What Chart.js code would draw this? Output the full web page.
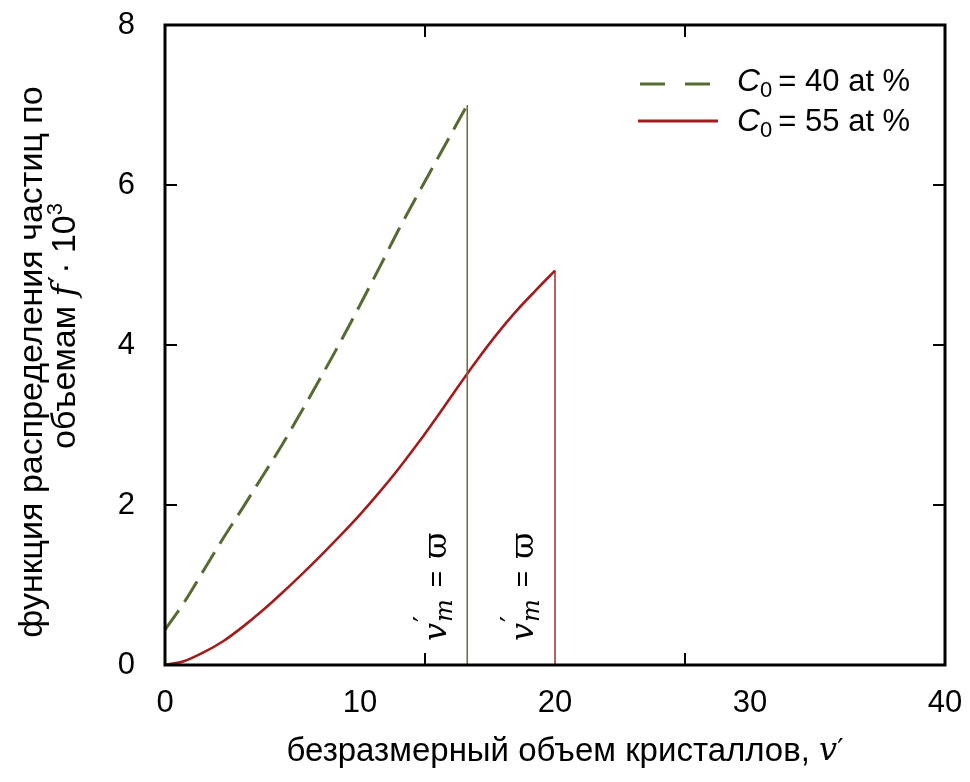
<!DOCTYPE html>
<html>
<head>
<meta charset="utf-8">
<script src="https://cdn.jsdelivr.net/npm/chart.js@4/dist/chart.umd.min.js"></script>
<style>
body { margin: 0; background: #fff; }
#wrap { width: 970px; height: 782px; }
</style>
</head>
<body>
<div id="wrap"><canvas id="chartDist"></canvas></div>
<script>
// values
const xGreen = [0, 1, 2, 3, 4, 5, 6, 7, 8, 9, 10, 11, 12, 13, 14, 15, 15.5];
const yGreen = [0.44, 0.79, 1.19, 1.59, 1.97, 2.36, 2.75, 3.17, 3.6, 4.04, 4.5, 4.97, 5.45, 5.9, 6.34, 6.78, 7.0];
const xRed = [0, 1, 2, 3, 4, 5, 6, 7, 8, 9, 10, 11, 12, 13, 14, 15, 16, 17, 18, 19, 20];
const yRed = [0, 0.05, 0.16, 0.3, 0.48, 0.68, 0.9, 1.13, 1.37, 1.62, 1.88, 2.16, 2.46, 2.78, 3.12, 3.47, 3.81, 4.13, 4.42, 4.68, 4.93];
const xTickLabels = [0, 10, 20, 30, 40];
const yTickLabels = [0, 2, 4, 6, 8];
const xTickMarks = [40 / 3, 80 / 3];
const yTickMarks = [2, 4, 6];

const GREEN = '#566b33';
const GREEN_V = '#70703f';
const RED = '#a11d1d';
const RED_V = '#a33a3a';
const SANS = '"Liberation Sans", Arial, sans-serif';
const SERIF = '"DejaVu Serif", "Liberation Serif", serif';

function pts(xs, ys) {
  return xs.map((x, i) => ({ x: x, y: ys[i] }));
}
function dropLine(xs, ys) {
  const n = xs.length - 1;
  return [{ x: xs[n], y: ys[n] }, { x: xs[n], y: 0 }];
}

// draw a run of text pieces, left to right, returns the width
function rich(ctx, parts, x, y, measureOnly) {
  let cx = x;
  parts.forEach(p => {
    ctx.font = p.font;
    if (!measureOnly) ctx.fillText(p.t, cx, y + (p.dy || 0));
    if (!p.noAdvance) cx += ctx.measureText(p.t).width + (p.gap || 0);
  });
  return cx - x;
}
function richCentered(ctx, parts, cx, cy, rot) {
  ctx.save();
  ctx.translate(cx, cy);
  if (rot) ctx.rotate(rot);
  ctx.textBaseline = 'middle';
  ctx.fillStyle = '#000';
  const w = rich(ctx, parts, 0, 0, true);
  rich(ctx, parts, -w / 2, 0, false);
  ctx.restore();
}

const vmParts = [
  { t: 'v', font: 'italic 32px ' + SERIF, gap: 1 },
  { t: '′', font: '27px ' + SERIF, dy: -11, noAdvance: true },
  { t: 'm', font: 'italic 24px ' + SERIF, dy: 8, gap: 12 },
  { t: '=', font: '28px ' + SANS, gap: 12 },
  { t: 'ϖ', font: '32px ' + SERIF }
];

const decor = {
  id: 'decor',
  afterDatasetsDraw(chart) {
    const ctx = chart.ctx;
    const a = chart.chartArea;
    const xs = chart.scales.x, ys = chart.scales.y;
    ctx.save();
    // frame
    ctx.strokeStyle = '#000';
    ctx.lineWidth = 3;
    ctx.strokeRect(a.left, a.top, a.right - a.left, a.bottom - a.top);
    // inward tick marks
    ctx.lineWidth = 2;
    ctx.beginPath();
    xTickMarks.forEach(v => {
      const px = xs.getPixelForValue(v);
      ctx.moveTo(px, a.bottom); ctx.lineTo(px, a.bottom - 12);
      ctx.moveTo(px, a.top); ctx.lineTo(px, a.top + 12);
    });
    yTickMarks.forEach(v => {
      const py = ys.getPixelForValue(v);
      ctx.moveTo(a.left, py); ctx.lineTo(a.left + 12, py);
      ctx.moveTo(a.right, py); ctx.lineTo(a.right - 12, py);
    });
    ctx.stroke();

    // annotations v'_m = varpi
    ctx.fillStyle = '#000';
    ctx.textBaseline = 'middle';
    [[14.0, 0.3], [18.45, 0.3]].forEach(p => {
      ctx.save();
      ctx.translate(xs.getPixelForValue(p[0]), ys.getPixelForValue(p[1]));
      ctx.rotate(-Math.PI / 2);
      rich(ctx, vmParts, 0, 0, false);
      ctx.restore();
    });

    // legend
    const lx0 = 640, lx1 = 718;
    ctx.lineWidth = 3;
    ctx.strokeStyle = GREEN;
    ctx.setLineDash([25, 20]);
    ctx.beginPath(); ctx.moveTo(lx0, 84); ctx.lineTo(lx1, 84); ctx.stroke();
    ctx.setLineDash([]);
    ctx.strokeStyle = RED;
    ctx.beginPath(); ctx.moveTo(lx0 - 2, 121); ctx.lineTo(lx1, 121); ctx.stroke();
    ctx.fillStyle = '#000';
    ['40', '55'].forEach((c, i) => {
      rich(ctx, [
        { t: 'C', font: 'italic 32px ' + SANS, gap: 0 },
        { t: '0', font: '22px ' + SANS, dy: 9, gap: 6 },
        { t: '= ' + c + ' at %', font: '31px ' + SANS }
      ], 737, 82 + i * 40, false);
    });

    // axis titles
    richCentered(ctx, [
      { t: 'безразмерный объем кристаллов, ', font: '33px ' + SANS },
      { t: 'v', font: 'italic 32px ' + SERIF },
      { t: '′', font: '28px ' + SERIF }
    ], 565, 752, 0);
    richCentered(ctx, [
      { t: 'функция распределения частиц по', font: '34px ' + SANS }
    ], 33, 362, -Math.PI / 2);
    richCentered(ctx, [
      { t: 'объемам ', font: '34px ' + SANS },
      { t: 'f', font: 'italic 33px ' + SERIF, gap: 2 },
      { t: '′', font: '28px ' + SERIF, dy: -4, gap: 2 },
      { t: '· 10', font: '34px ' + SANS },
      { t: '3', font: '22px ' + SANS, dy: -10 }
    ], 66, 326, -Math.PI / 2);
    ctx.restore();
  }
};

new Chart(document.getElementById('chartDist').getContext('2d'), {
  type: 'line',
  data: {
    datasets: [{
      label: 'C0 = 40 at %',
      data: pts(xGreen, yGreen),
      borderColor: GREEN,
      borderWidth: 3,
      borderDash: [24, 10],
      pointRadius: 0,
      cubicInterpolationMode: 'monotone'
    }, {
      data: dropLine(xGreen, yGreen),
      borderColor: GREEN_V,
      borderWidth: 1.6,
      pointRadius: 0
    }, {
      label: 'C0 = 55 at %',
      data: pts(xRed, yRed),
      borderColor: RED,
      borderWidth: 2.6,
      pointRadius: 0,
      cubicInterpolationMode: 'monotone'
    }, {
      data: dropLine(xRed, yRed),
      borderColor: RED_V,
      borderWidth: 1.6,
      pointRadius: 0
    }]
  },
  options: {
    responsive: true,
    maintainAspectRatio: false,
    animation: false,
    layout: { padding: { top: 25, right: 25, left: 0, bottom: 0 } },
    plugins: { legend: { display: false }, tooltip: { enabled: false } },
    scales: {
      x: {
        type: 'linear',
        min: 0, max: 40,
        afterFit: s => { s.height = 117; s.paddingLeft = 0; s.paddingRight = 0; },
        afterBuildTicks: s => { s.ticks = xTickLabels.map(v => ({ value: v })); },
        grid: { display: false, drawTicks: false },
        border: { display: false },
        ticks: { color: '#000', padding: 20, maxRotation: 0, font: { family: SANS, size: 31 } }
      },
      y: {
        min: 0, max: 8,
        afterFit: s => { s.width = 165; s.paddingTop = 0; s.paddingBottom = 0; },
        afterBuildTicks: s => { s.ticks = yTickLabels.map(v => ({ value: v })); },
        grid: { display: false, drawTicks: false },
        border: { display: false },
        ticks: { color: '#000', padding: 30, font: { family: SANS, size: 31 } }
      }
    }
  },
  plugins: [decor]
});
</script>
</body>
</html>
